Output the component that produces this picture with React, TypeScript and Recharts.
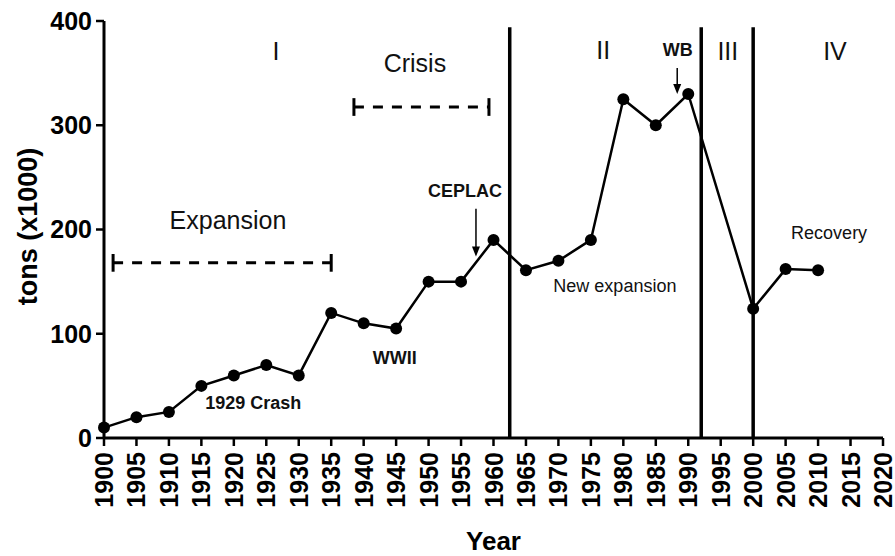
import { LineChart, Line, XAxis, YAxis, ReferenceLine, ReferenceDot, Label } from 'recharts'

const years = [1900, 1905, 1910, 1915, 1920, 1925, 1930, 1935, 1940, 1945, 1950, 1955, 1960, 1965, 1970, 1975, 1980, 1985, 1990, 2000, 2005, 2010]
const tons = [10, 20, 25, 50, 60, 70, 60, 120, 110, 105, 150, 150, 190, 161, 170, 190, 325, 300, 330, 124, 162, 161]

const xTicks = [1900, 1905, 1910, 1915, 1920, 1925, 1930, 1935, 1940, 1945, 1950, 1955, 1960, 1965, 1970, 1975, 1980, 1985, 1990, 1995, 2000, 2005, 2010, 2015, 2020]
const yTicks = [0, 100, 200, 300, 400]

// period boundaries (vertical bars)
const periodBreaks = [1962.5, 1992, 2000]
const breakTop = 394

// dashed brackets: [from, to, level]
const brackets = [
  [1901.4, 1935, 168],
  [1938.5, 1959.3, 317.5],
]

// arrows: [x, fromY, toY]
const arrows = [
  [1957.3, 220, 174],
  [1988.3, 355, 330],
]

// text notes: [text, x, y, size, bold]
const notes: [string, number, number, number, boolean][] = [
  ['I', 1926.5, 362.6, 25, false],
  ['Crisis', 1947.9, 351.1, 25, false],
  ['II', 1976.9, 363.5, 25, false],
  ['III', 1996.1, 362.6, 25, false],
  ['IV', 2012.6, 362.6, 25, false],
  ['Expansion', 1919.1, 200.5, 25, false],
  ['1929 Crash', 1923.0, 27.8, 18, true],
  ['WWII', 1944.8, 71.0, 18, true],
  ['CEPLAC', 1955.6, 231.2, 18, true],
  ['WB', 1988.4, 366.4, 18, true],
  ['New expansion', 1978.7, 140.0, 18, false],
  ['Recovery', 2011.7, 190.9, 18, false],
]

const data = years.map((year, i) => ({ year, tons: tons[i] }))

const FONT = '"Liberation Sans", Arial, sans-serif'

function XTick({ x, y, payload }: any) {
  return (
    <text
      x={x}
      y={y}
      transform={`rotate(-90, ${x}, ${y})`}
      textAnchor="end"
      dominantBaseline="central"
      fontSize={25}
      fontWeight="bold"
      fontFamily={FONT}
      fill="#000"
    >
      {payload.value}
    </text>
  )
}

function ArrowShape(p: any) {
  const { x1, y1, x2, y2 } = p
  return (
    <g>
      <line x1={x1} y1={y1} x2={x2} y2={y2 - 6} stroke="#000" strokeWidth={1.5} />
      <polygon points={`${x2 - 4},${y2 - 10} ${x2 + 4},${y2 - 10} ${x2},${y2}`} fill="#000" />
    </g>
  )
}

export default function App() {
  return (
    <div style={{ position: 'absolute', left: 0, top: 0, background: '#fff' }}>
      <LineChart
        width={895}
        height={556}
        data={data}
        margin={{ top: 21, right: 12, bottom: 38, left: 0 }}
        style={{ fontFamily: FONT }}
      >
        <XAxis
          dataKey="year"
          type="number"
          domain={[1900, 2020]}
          ticks={xTicks}
          interval={0}
          height={80}
          tickSize={8}
          tickMargin={6}
          axisLine={{ stroke: '#000', strokeWidth: 3 }}
          tickLine={{ stroke: '#000', strokeWidth: 2.5 }}
          tick={<XTick />}
        >
          <Label
            content={(p: any) => {
              const vb = p.viewBox
              return (
                <text
                  x={vb.x + vb.width / 2}
                  y={vb.y + 112}
                  textAnchor="middle"
                  fontSize={26}
                  fontWeight="bold"
                  fontFamily={FONT}
                  fill="#000"
                >
                  Year
                </text>
              )
            }}
          />
        </XAxis>
        <YAxis
          type="number"
          domain={[0, 400]}
          ticks={yTicks}
          width={104}
          tickSize={8}
          tickMargin={4}
          axisLine={{ stroke: '#000', strokeWidth: 3 }}
          tickLine={{ stroke: '#000', strokeWidth: 2.5 }}
          tick={{ fill: '#000', fontSize: 25, fontWeight: 'bold', fontFamily: FONT }}
        >
          <Label
            content={(p: any) => {
              const vb = p.viewBox
              const cx = vb.x + 28
              const cy = vb.y + vb.height / 2 - 3
              return (
                <text
                  x={cx}
                  y={cy}
                  transform={`rotate(-90, ${cx}, ${cy})`}
                  textAnchor="middle"
                  dominantBaseline="central"
                  fontSize={27}
                  fontWeight="bold"
                  fontFamily={FONT}
                  fill="#000"
                >
                  tons (x1000)
                </text>
              )
            }}
          />
        </YAxis>

        {periodBreaks.map((x) => (
          <ReferenceLine
            key={'b' + x}
            segment={[{ x, y: 0 }, { x, y: breakTop }]}
            stroke="#000"
            strokeWidth={3.5}
            ifOverflow="visible"
          />
        ))}

        {brackets.map(([a, b, lv]) => (
          <ReferenceLine
            key={'d' + a}
            segment={[{ x: a, y: lv }, { x: b, y: lv }]}
            stroke="#000"
            strokeWidth={3}
            strokeDasharray="10 9"
          />
        ))}
        {brackets.flatMap(([a, b, lv]) =>
          [a, b].map((x) => (
            <ReferenceLine
              key={'c' + x}
              segment={[{ x, y: lv - 8.5 }, { x, y: lv + 8.5 }]}
              stroke="#000"
              strokeWidth={3}
            />
          ))
        )}

        {arrows.map(([x, y1, y2]) => (
          <ReferenceLine
            key={'a' + x}
            segment={[{ x, y: y1 }, { x, y: y2 }]}
            shape={ArrowShape}
          />
        ))}

        {notes.map(([t, x, y, size, bold]) => (
          <ReferenceDot
            key={t}
            x={x}
            y={y}
            r={0}
            ifOverflow="visible"
            shape={(p: any) => (
              <text
                x={p.cx}
                y={p.cy}
                textAnchor="middle"
                fontSize={size}
                fontWeight={bold ? 'bold' : 'normal'}
                fontFamily={FONT}
                fill="#111"
              >
                {t}
              </text>
            )}
          />
        ))}

        <Line
          type="linear"
          dataKey="tons"
          stroke="#000"
          strokeWidth={2.5}
          dot={{ r: 6, fill: '#000', stroke: '#000', strokeWidth: 0 }}
          isAnimationActive={false}
        />
      </LineChart>
    </div>
  )
}
